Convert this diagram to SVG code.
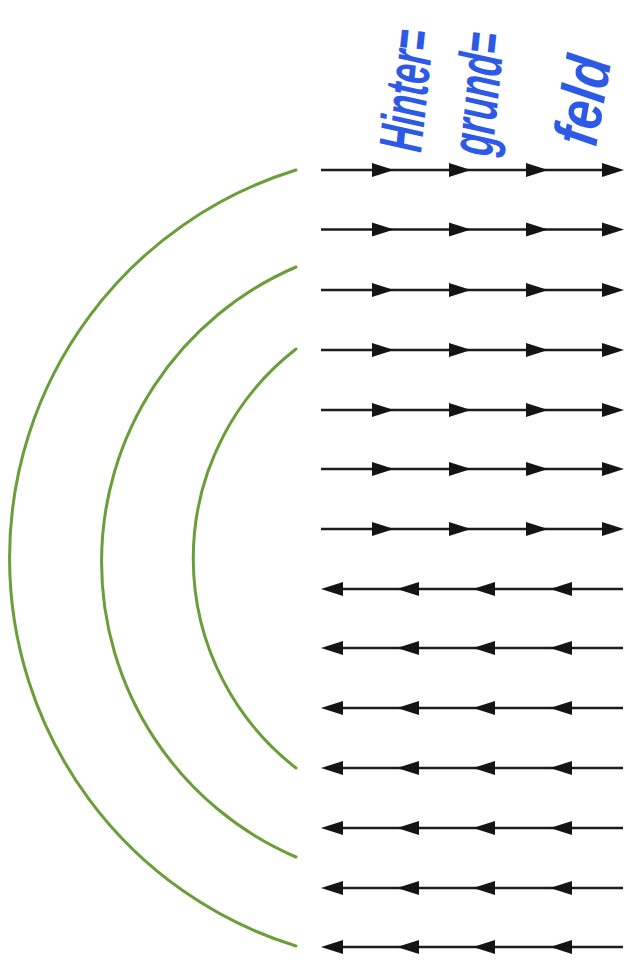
<svg xmlns="http://www.w3.org/2000/svg" xmlns:xlink="http://www.w3.org/1999/xlink" width="629" height="966" viewBox="0 0 629 966">
  <style>
    .arc { fill: none; stroke: #6a9e3a; stroke-width: 3; stroke-linecap: round; }
    .ln { stroke: #1c1c1c; stroke-width: 2.4; fill: none; }
    .ah { fill: #141414; }
    .hw { font-family: "Liberation Sans", "DejaVu Sans", sans-serif; font-weight: bold; fill: #2c5ae6; font-style: italic; }
  </style>
  <defs>
    <g id="rowR">
      <line class="ln" x1="321" y1="0" x2="615" y2="0"/>
      <polygon class="ah" points="394,0 372,-7 372,7"/>
      <polygon class="ah" points="471,0 449,-7 449,7"/>
      <polygon class="ah" points="548,0 526,-7 526,7"/>
      <polygon class="ah" points="624,0 602,-7 602,7"/>
    </g>
    <g id="rowL">
      <line class="ln" x1="330" y1="0" x2="623" y2="0"/>
      <polygon class="ah" points="321,0 343,-7 343,7"/>
      <polygon class="ah" points="397,0 419,-7 419,7"/>
      <polygon class="ah" points="473,0 495,-7 495,7"/>
      <polygon class="ah" points="550,0 572,-7 572,7"/>
    </g>
  </defs>
  <rect width="629" height="966" fill="#ffffff"/>

  <g id="arc-outer"><path class="arc" d="M296,170 A406,406 0 0 0 296,946"/></g>
  <g id="arc-middle"><path class="arc" d="M296,267 A321,321 0 0 0 296,857"/></g>
  <g id="arc-inner"><path class="arc" d="M296,349 A265,265 0 0 0 296,768"/></g>

  <g id="connectors">
    <use xlink:href="#rowR" y="170"/>
    <use xlink:href="#rowR" y="229.5"/>
    <use xlink:href="#rowR" y="290"/>
    <use xlink:href="#rowR" y="350"/>
    <use xlink:href="#rowR" y="410"/>
    <use xlink:href="#rowR" y="469"/>
    <use xlink:href="#rowR" y="529"/>
    <use xlink:href="#rowL" y="589"/>
    <use xlink:href="#rowL" y="648"/>
    <use xlink:href="#rowL" y="708"/>
    <use xlink:href="#rowL" y="768"/>
    <use xlink:href="#rowL" y="828"/>
    <use xlink:href="#rowL" y="888"/>
    <use xlink:href="#rowL" y="947"/>
  </g>

  <g id="label">
    <text class="hw" font-size="35" transform="translate(421,153) rotate(-84) scale(1,1.75)">Hinter=</text>
    <text class="hw" font-size="36" transform="translate(492,157) rotate(-84) scale(1,1.7)">grund=</text>
    <text class="hw" font-size="50" transform="translate(596,148) rotate(-80) scale(1,1.25)">feld</text>
  </g>
</svg>
